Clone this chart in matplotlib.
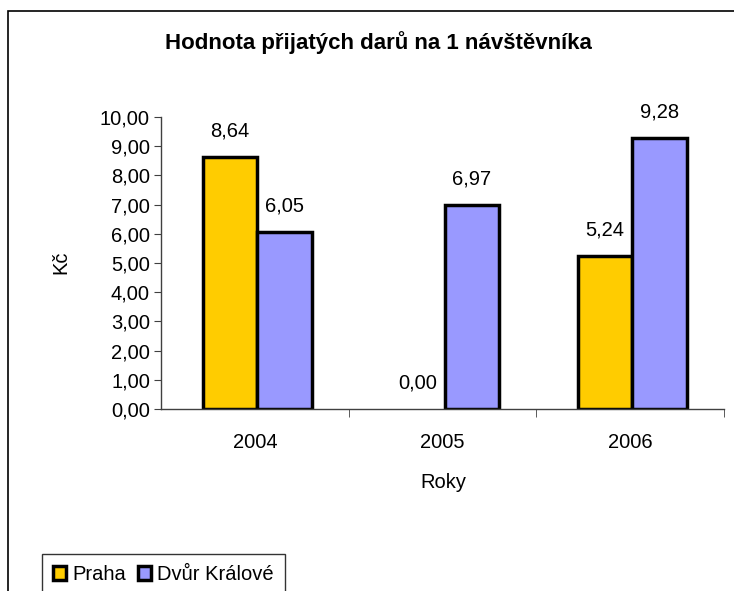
import matplotlib
matplotlib.use("Agg")
import matplotlib.pyplot as plt
from matplotlib.patches import Rectangle
from matplotlib.ticker import FixedLocator, FuncFormatter

plt.rcParams['font.family'] = ['Liberation Sans', 'DejaVu Sans']

years = ["2004", "2005", "2006"]
series_names = ["Praha", "Dvůr Králové"]
praha = [8.64, 0.00, 5.24]
dvur = [6.05, 6.97, 9.28]
colors = ["#FFCC00", "#9999FF"]
title = "Hodnota přijatých darů na 1 návštěvníka"
xlabel = "Roky"
ylabel = "Kč"
yticks = [0, 1, 2, 3, 4, 5, 6, 7, 8, 9, 10]

W, H = 734, 591
FS = 14.5
fig = plt.figure(figsize=(W / 100, H / 100), dpi=100)
fig.patch.set_facecolor("white")

# outer chart frame
fig.patches.append(Rectangle((8 / W, -0.1), 1.2, (H - 11) / H + 0.1,
                             transform=fig.transFigure, fill=False,
                             edgecolor="black", linewidth=1.2))

ax = fig.add_axes([161 / W, (H - 409) / H, (724 - 161) / W, (409 - 117) / H])
x = list(range(len(years)))
bw = 0.29
sh = 0.012
b1 = ax.bar([i - bw / 2 + sh for i in x], praha, width=bw, color=colors[0],
            edgecolor="black", linewidth=2.5, label=series_names[0])
b2 = ax.bar([i + bw / 2 + sh for i in x], dvur, width=bw, color=colors[1],
            edgecolor="black", linewidth=2.5, label=series_names[1])
for r, v in zip(b1, praha):
    if v == 0:
        r.set_linewidth(0)
for r, v in zip(b2, dvur):
    if v == 0:
        r.set_linewidth(0)

fmt = lambda v: f"{v:.2f}".replace(".", ",")
for bars, vals in ((b1, praha), (b2, dvur)):
    for r, v in zip(bars, vals):
        ax.annotate(fmt(v), (r.get_x() + r.get_width() / 2, v),
                    xytext=(0, 12), textcoords="offset points",
                    ha="center", va="bottom", fontsize=FS,
                    annotation_clip=False)

ax.set_xlim(-0.5, 2.5)
ax.set_ylim(0, 10)
ax.set_yticks(yticks)
ax.yaxis.set_major_formatter(FuncFormatter(lambda v, p: fmt(v)))
ax.set_xticks(x)
ax.set_xticklabels(years)
ax.xaxis.set_minor_locator(FixedLocator([0.5, 1.5, 2.5]))
ax.tick_params(axis="x", which="major", length=0, pad=17, labelsize=FS)
ax.tick_params(axis="x", which="minor", length=6, direction="out", color="#404040")
ax.tick_params(axis="y", length=5, direction="out", pad=3, labelsize=FS, color="#404040")

for s in ("top", "right"):
    ax.spines[s].set_visible(False)
for s in ("left", "bottom"):
    ax.spines[s].set_color("#404040")
    ax.spines[s].set_linewidth(1.0)

fig.text(378 / W, 1 - 43 / H, title, ha="center", va="center",
         fontsize=16, fontweight="bold")
fig.text(443 / W, 1 - 482 / H, xlabel, ha="center", va="center", fontsize=FS)
fig.text(61 / W, 1 - 262 / H, ylabel, ha="center", va="center", fontsize=FS,
         rotation=90)

leg = fig.legend(handles=[b1, b2], labels=series_names, loc="upper left",
                 bbox_to_anchor=(42 / W, 1 - 554 / H), ncol=2, fontsize=FS,
                 frameon=True, fancybox=False, edgecolor="black",
                 handlelength=0.65, handleheight=0.65, handletextpad=0.3,
                 columnspacing=0.6, borderpad=0.55, borderaxespad=0)
leg.get_frame().set_linewidth(1.0)

fig.savefig("out.png", dpi=100, facecolor="white")
